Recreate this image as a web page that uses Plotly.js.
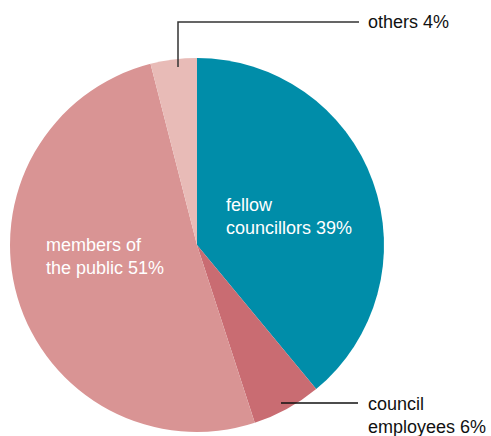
<!DOCTYPE html>
<html>
<head>
<meta charset="utf-8">
<script src="https://cdn.plot.ly/plotly-3.0.1.min.js"></script>
<style>html,body{margin:0;padding:0;background:#fff;}#chart{width:491px;height:436px;}</style>
</head>
<body>
<div id="chart"></div>
<script>
const categories = ["fellow councillors", "council employees", "members of the public", "others"];
const shares = [39, 6, 51, 4];
const colors = ["#008DA9", "#C96C72", "#D99494", "#E8BBB7"];
const labelTexts = ["fellow<br>councillors 39%", "council<br>employees 6%", "members of<br>the public 51%", "others 4%"];

const W = 491, H = 436;
const px = x => x / W;
const py = y => 1 - y / H;

const trace = {
  type: "pie",
  labels: categories,
  values: shares,
  sort: false,
  direction: "clockwise",
  rotation: 0,
  textinfo: "none",
  hoverinfo: "label+percent",
  marker: {colors: colors, line: {width: 0}},
  domain: {x: [px(10), px(384)], y: [py(432), py(58)]},
  showlegend: false
};

const font = {family: "Liberation Sans, Arial, sans-serif", size: 18};

const layout = {
  width: W, height: H,
  margin: {l: 0, r: 0, t: 0, b: 0},
  paper_bgcolor: "#fff",
  showlegend: false,
  annotations: [
    {text: labelTexts[0], x: px(224), y: py(216), xref: "paper", yref: "paper", xanchor: "left", yanchor: "middle", align: "left", showarrow: false, font: Object.assign({}, font, {color: "#fff"})},
    {text: labelTexts[2], x: px(44), y: py(256), xref: "paper", yref: "paper", xanchor: "left", yanchor: "middle", align: "left", showarrow: false, font: Object.assign({}, font, {color: "#fff"})},
    {text: labelTexts[3], x: px(366), y: py(22), xref: "paper", yref: "paper", xanchor: "left", yanchor: "middle", align: "left", showarrow: false, font: Object.assign({}, font, {color: "#111"})},
    {text: labelTexts[1], x: px(366), y: py(415), xref: "paper", yref: "paper", xanchor: "left", yanchor: "middle", align: "left", showarrow: false, font: Object.assign({}, font, {color: "#111"})}
  ],
  shapes: [
    {type: "path", xref: "paper", yref: "paper",
     path: `M ${px(178)} ${py(67)} L ${px(178)} ${py(22)} L ${px(359)} ${py(22)}`,
     line: {color: "#333", width: 1.5}},
    {type: "line", xref: "paper", yref: "paper", x0: px(281), y0: py(403), x1: px(358), y1: py(403),
     line: {color: "#111", width: 1.5}}
  ]
};

Plotly.newPlot("chart", [trace], layout, {displayModeBar: false, staticPlot: true});
</script>
</body>
</html>
